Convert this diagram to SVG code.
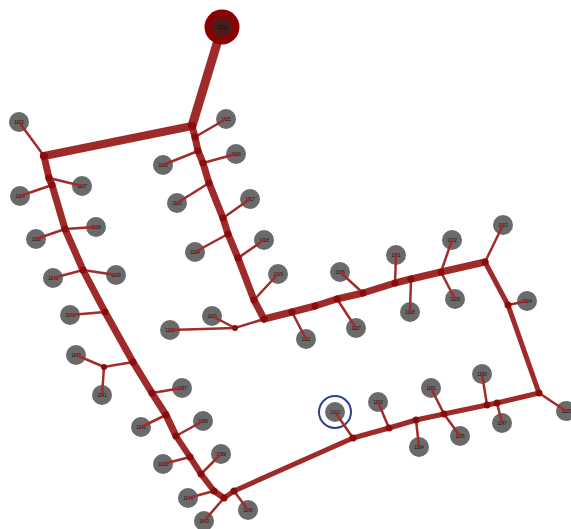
<svg xmlns="http://www.w3.org/2000/svg" width="571" height="529" viewBox="0 0 571 529">
<style>
.t{fill:none;stroke:#9e2a2a;stroke-linecap:round;stroke-linejoin:round}
.l{fill:none;stroke:#a02c2c;stroke-width:2.5;stroke-linecap:round}
.j{fill:#8b0a0a}
.n circle{fill:#6a6a6a}
text{font-family:"Liberation Sans",Arial,sans-serif;font-size:4.5px;fill:#111;text-anchor:middle;dominant-baseline:central}
</style>
<rect width="571" height="529" fill="#fff"/>
<g id="n1102" class="n"><circle cx="19" cy="122" r="10"/><text x="19" y="122">1102</text></g>
<g id="n1107" class="n"><circle cx="82" cy="186" r="10"/><text x="82" y="186">1107</text></g>
<g id="n1114" class="n"><circle cx="20" cy="196" r="10"/><text x="20" y="196">1114</text></g>
<g id="n1108" class="n"><circle cx="96" cy="227" r="10"/><text x="96" y="227">1108</text></g>
<g id="n1113" class="n"><circle cx="36" cy="239" r="10"/><text x="36" y="239">1113</text></g>
<g id="n1109" class="n"><circle cx="116" cy="275" r="10"/><text x="116" y="275">1109</text></g>
<g id="n1148" class="n"><circle cx="53" cy="278" r="10"/><text x="53" y="278">1148</text></g>
<g id="n1146" class="n"><circle cx="70" cy="315" r="10"/><text x="70" y="315">1146</text></g>
<g id="n1142" class="n"><circle cx="76" cy="355" r="10"/><text x="76" y="355">1142</text></g>
<g id="n1141" class="n"><circle cx="102" cy="395" r="10"/><text x="102" y="395">1141</text></g>
<g id="n1137" class="n"><circle cx="182" cy="388" r="10"/><text x="182" y="388">1137</text></g>
<g id="n1140" class="n"><circle cx="141" cy="427" r="10"/><text x="141" y="427">1140</text></g>
<g id="n1136" class="n"><circle cx="203" cy="421" r="10"/><text x="203" y="421">1136</text></g>
<g id="n1138" class="n"><circle cx="163" cy="464" r="10"/><text x="163" y="464">1138</text></g>
<g id="n1139" class="n"><circle cx="221" cy="454" r="10"/><text x="221" y="454">1139</text></g>
<g id="n1144" class="n"><circle cx="188" cy="498" r="10"/><text x="188" y="498">1144</text></g>
<g id="n1145" class="n"><circle cx="248" cy="510" r="10"/><text x="248" y="510">1145</text></g>
<g id="n1143" class="n"><circle cx="204" cy="521" r="10"/><text x="204" y="521">1143</text></g>
<g id="n1115" class="n"><circle cx="226" cy="119" r="10"/><text x="226" y="119">1115</text></g>
<g id="n1106" class="n"><circle cx="163" cy="165" r="10"/><text x="163" y="165">1106</text></g>
<g id="n1116" class="n"><circle cx="236" cy="154" r="10"/><text x="236" y="154">1116</text></g>
<g id="n1105" class="n"><circle cx="177" cy="203" r="10"/><text x="177" y="203">1105</text></g>
<g id="n1117" class="n"><circle cx="250" cy="199" r="10"/><text x="250" y="199">1117</text></g>
<g id="n1104" class="n"><circle cx="195" cy="252" r="10"/><text x="195" y="252">1104</text></g>
<g id="n1118" class="n"><circle cx="264" cy="240" r="10"/><text x="264" y="240">1118</text></g>
<g id="n1119" class="n"><circle cx="278" cy="274" r="10"/><text x="278" y="274">1119</text></g>
<g id="n1120" class="n"><circle cx="212" cy="316" r="10"/><text x="212" y="316">1120</text></g>
<g id="n1110" class="n"><circle cx="170" cy="330" r="10"/><text x="170" y="330">1110</text></g>
<g id="n1111" class="n"><circle cx="306" cy="339" r="10"/><text x="306" y="339">1111</text></g>
<g id="n1126" class="n"><circle cx="340" cy="272" r="10"/><text x="340" y="272">1126</text></g>
<g id="n1127" class="n"><circle cx="356" cy="328" r="10"/><text x="356" y="328">1127</text></g>
<g id="n1121" class="n"><circle cx="396" cy="255" r="10"/><text x="396" y="255">1121</text></g>
<g id="n1128" class="n"><circle cx="410" cy="312" r="10"/><text x="410" y="312">1128</text></g>
<g id="n1122" class="n"><circle cx="452" cy="240" r="10"/><text x="452" y="240">1122</text></g>
<g id="n1129" class="n"><circle cx="455" cy="299" r="10"/><text x="455" y="299">1129</text></g>
<g id="n1123" class="n"><circle cx="503" cy="225" r="10"/><text x="503" y="225">1123</text></g>
<g id="n1124" class="n"><circle cx="527" cy="301" r="10"/><text x="527" y="301">1124</text></g>
<g id="n1125" class="n"><circle cx="566" cy="411" r="10"/><text x="566" y="411">1125</text></g>
<g id="n1112" class="n"><circle cx="335" cy="412" r="10"/><text x="335" y="412">1112</text><circle cx="335" cy="412" r="16" style="fill:none;stroke:#2e3f96;stroke-width:2"/></g>
<g id="n1132" class="n"><circle cx="378" cy="402" r="10"/><text x="378" y="402">1132</text></g>
<g id="n1131" class="n"><circle cx="431" cy="388" r="10"/><text x="431" y="388">1131</text></g>
<g id="n1130" class="n"><circle cx="482" cy="374" r="10"/><text x="482" y="374">1130</text></g>
<g id="n1134" class="n"><circle cx="419" cy="447" r="10"/><text x="419" y="447">1134</text></g>
<g id="n1135" class="n"><circle cx="460" cy="436" r="10"/><text x="460" y="436">1135</text></g>
<g id="n1147" class="n"><circle cx="502" cy="423" r="10"/><text x="502" y="423">1147</text></g>
<g id="connectors">
<path class="t" stroke-width="9" d="M222,27 L192,126"/>
<path class="t" stroke-width="8" d="M192,126 L44,156"/>
<path class="t" stroke-width="7" d="M44,156 L49,178 L52,185 L65,229 L83,270 L105,312 L133,362 L152,393 L166,415 L176,436"/>
<path class="t" stroke-width="6" d="M176,436 L190,457 L201,474 L214,491 L224,498"/>
<path class="t" stroke-width="7" d="M192,126 L195,137 L198,151 L203,163 L209,183 L223,218 L228,234 L238,258 L254,300 L264,319"/>
<path class="t" stroke-width="7" d="M264,319 L292,312 L315,306 L337,299 L363,293 L395,283 L411,279 L441,272 L485,262"/>
<path class="t" stroke-width="5" d="M485,262 L508,305 L539,393"/>
<path class="t" stroke-width="5" d="M539,393 L497,403 L487,405 L444,414 L416,420 L389,428 L353,438 L234,491 L224,498"/>
<path class="l" d="M19,122 L44,156 M82,186 L49,178 M20,196 L52,185 M96,227 L65,229 L36,239 M116,275 L83,270 L53,278 M70,315 L105,312 M133,362 L104,367 L76,355 M104,367 L102,395 M182,388 L152,393 M141,427 L166,415 M203,421 L176,436 M163,464 L190,457 M221,454 L201,474 M188,498 L214,491 M204,521 L224,498 M248,510 L234,491"/>
<path class="l" d="M226,119 L195,137 M163,165 L198,151 M236,154 L203,163 M177,203 L209,183 M250,199 L223,218 M195,252 L228,234 M264,240 L238,258 M278,274 L254,300 M264,319 L235,328 L212,316 M235,328 L170,330"/>
<path class="l" d="M306,339 L292,312 M340,272 L363,293 M356,328 L337,299 M396,255 L395,283 M410,312 L411,279 M452,240 L441,272 L455,299 M503,225 L485,262 M527,301 L508,305"/>
<path class="l" d="M335,412 L353,438 M378,402 L389,428 M419,447 L416,420 M431,388 L444,414 L460,436 M482,374 L487,405 M502,423 L497,403 M566,411 L539,393"/>
</g>
<g id="junctions">
<circle class="j" cx="192" cy="126" r="4"/><circle class="j" cx="44" cy="156" r="4"/>
<circle class="j" cx="49" cy="178" r="3.5"/><circle class="j" cx="52" cy="185" r="3.5"/><circle class="j" cx="65" cy="229" r="3.5"/><circle class="j" cx="83" cy="270" r="3.5"/><circle class="j" cx="105" cy="312" r="3.5"/><circle class="j" cx="133" cy="362" r="3.5"/><circle class="j" cx="104" cy="367" r="3"/><circle class="j" cx="152" cy="393" r="3.5"/><circle class="j" cx="166" cy="415" r="3.5"/><circle class="j" cx="176" cy="436" r="3.5"/><circle class="j" cx="190" cy="457" r="3.5"/><circle class="j" cx="201" cy="474" r="3.5"/><circle class="j" cx="214" cy="491" r="3.5"/><circle class="j" cx="224" cy="498" r="3.5"/><circle class="j" cx="234" cy="491" r="3.5"/>
<circle class="j" cx="195" cy="137" r="3.5"/><circle class="j" cx="198" cy="151" r="3.5"/><circle class="j" cx="203" cy="163" r="3.5"/><circle class="j" cx="209" cy="183" r="3.5"/><circle class="j" cx="223" cy="218" r="3.5"/><circle class="j" cx="228" cy="234" r="3.5"/><circle class="j" cx="238" cy="258" r="3.5"/><circle class="j" cx="254" cy="300" r="3.5"/><circle class="j" cx="264" cy="319" r="3.5"/><circle class="j" cx="235" cy="328" r="3"/>
<circle class="j" cx="292" cy="312" r="3.5"/><circle class="j" cx="315" cy="306" r="3.5"/><circle class="j" cx="337" cy="299" r="3.5"/><circle class="j" cx="363" cy="293" r="3.5"/><circle class="j" cx="395" cy="283" r="3.5"/><circle class="j" cx="411" cy="279" r="3.5"/><circle class="j" cx="441" cy="272" r="3.5"/><circle class="j" cx="485" cy="262" r="3.5"/><circle class="j" cx="508" cy="305" r="3.5"/><circle class="j" cx="539" cy="393" r="3.5"/>
<circle class="j" cx="497" cy="403" r="3.5"/><circle class="j" cx="487" cy="405" r="3.5"/><circle class="j" cx="444" cy="414" r="3.5"/><circle class="j" cx="416" cy="420" r="3.5"/><circle class="j" cx="389" cy="428" r="3.5"/><circle class="j" cx="353" cy="438" r="3.5"/>
</g>
<g id="n1101"><circle cx="222" cy="27" r="17.5" fill="#8b0000"/><circle cx="222" cy="27" r="10" fill="#4a1c1c" stroke="#6e1414" stroke-width="1"/><text x="222" y="27">1101</text></g>
</svg>
